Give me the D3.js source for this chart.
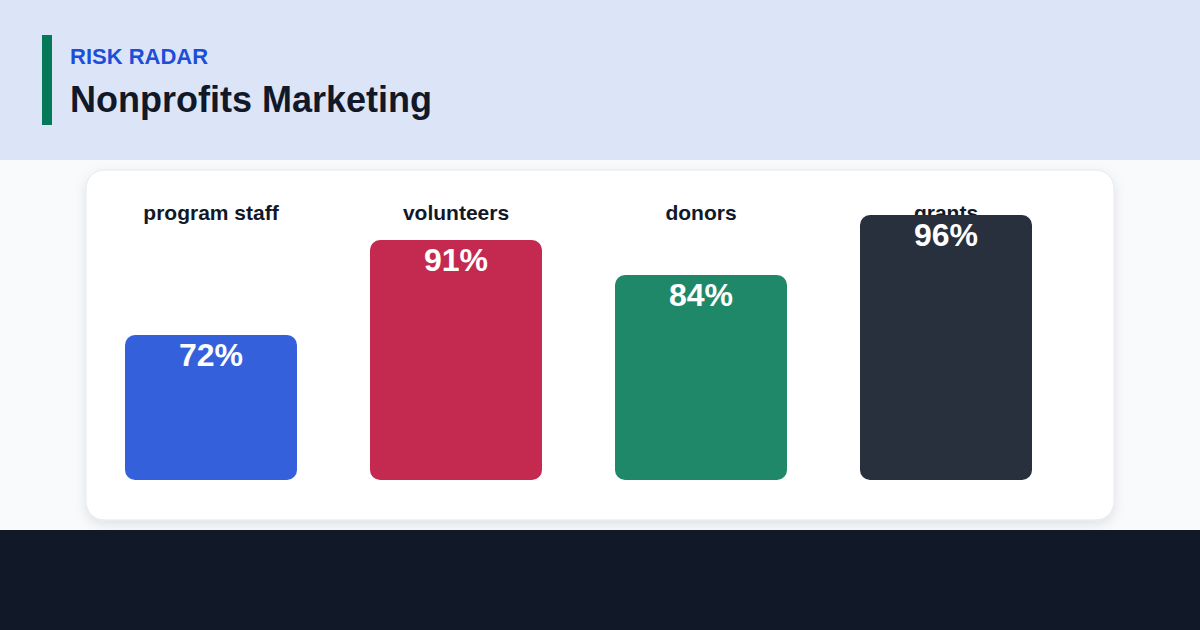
<!DOCTYPE html>
<html>
<head>
<meta charset="utf-8">
<script src="https://cdn.jsdelivr.net/npm/d3@7"></script>
<style>
  html, body { margin: 0; padding: 0; background: #f8fafc; }
  svg { display: block; font-family: "Liberation Sans", Arial, Helvetica, sans-serif; }
</style>
</head>
<body>
<svg id="chart" width="1200" height="630"></svg>
<script>
// ── Data ───────────────────────────────────────────────────
const categories = ['program staff', 'volunteers', 'donors', 'grants'];
const values = [72, 91, 84, 96];
const barColors = ['#3461db', '#c42a50', '#1f8868', '#282f3d'];

const W = 1200, H = 630;
const svg = d3.select('#chart');

// ── Background bands ───────────────────────────────────────
svg.append('rect').attr('width', W).attr('height', H).attr('fill', '#f8fafc');
svg.append('rect').attr('width', W).attr('height', 160).attr('fill', '#dce5f7');
svg.append('rect').attr('y', 530).attr('width', W).attr('height', 100).attr('fill', '#111827');

// ── Header ─────────────────────────────────────────────────
svg.append('rect')
  .attr('x', 42).attr('y', 35).attr('width', 10).attr('height', 90)
  .attr('fill', '#047857');

svg.append('text')
  .attr('x', 70).attr('y', 64)
  .attr('fill', '#1d4ed8')
  .attr('font-size', '22px')
  .attr('font-weight', 700)
  .text('RISK RADAR');

svg.append('text')
  .attr('x', 70).attr('y', 112)
  .attr('fill', '#111827')
  .attr('font-size', '36px')
  .attr('font-weight', 700)
  .text('Nonprofits Marketing');

// ── Card ───────────────────────────────────────────────────
const defs = svg.append('defs');
const shadow = defs.append('filter').attr('id', 'card-shadow')
  .attr('x', '-10%').attr('y', '-10%').attr('width', '120%').attr('height', '130%');
shadow.append('feDropShadow')
  .attr('dx', 0).attr('dy', 4).attr('stdDeviation', 6)
  .attr('flood-color', '#0f172a').attr('flood-opacity', 0.10);

svg.append('rect')
  .attr('x', 86).attr('y', 170).attr('width', 1028).attr('height', 350)
  .attr('rx', 18)
  .attr('fill', '#ffffff')
  .attr('stroke', '#e5e7eb')
  .attr('stroke-width', 1)
  .attr('filter', 'url(#card-shadow)');

// ── Scales ─────────────────────────────────────────────────
const x = d3.scaleBand()
  .domain(categories)
  .range([125, 1032])
  .paddingInner(0.298)
  .paddingOuter(0);

const yBase = 43;
const y = d3.scaleLinear()
  .domain([yBase, 100])
  .range([480, 195]);

const rows = categories.map((c, i) => ({ cat: c, value: values[i], color: barColors[i] }));

// Category labels first (bars paint over them, as in the reference)
svg.selectAll('.cat-label')
  .data(rows)
  .enter().append('text')
  .attr('class', 'cat-label')
  .attr('x', d => x(d.cat) + x.bandwidth() / 2)
  .attr('y', 220)
  .attr('text-anchor', 'middle')
  .attr('fill', '#111827')
  .attr('font-size', '21px')
  .attr('font-weight', 700)
  .text(d => d.cat);

// Bars
svg.selectAll('.bar')
  .data(rows)
  .enter().append('rect')
  .attr('class', 'bar')
  .attr('x', d => x(d.cat))
  .attr('y', d => y(d.value))
  .attr('width', x.bandwidth())
  .attr('height', d => y(yBase) - y(d.value))
  .attr('rx', 10)
  .attr('fill', d => d.color);

// Value labels
svg.selectAll('.val-label')
  .data(rows)
  .enter().append('text')
  .attr('class', 'val-label')
  .attr('x', d => x(d.cat) + x.bandwidth() / 2)
  .attr('y', d => y(d.value) + 31)
  .attr('text-anchor', 'middle')
  .attr('fill', '#ffffff')
  .attr('font-size', '32px')
  .attr('font-weight', 700)
  .text(d => d.value + '%');
</script>
</body>
</html>
